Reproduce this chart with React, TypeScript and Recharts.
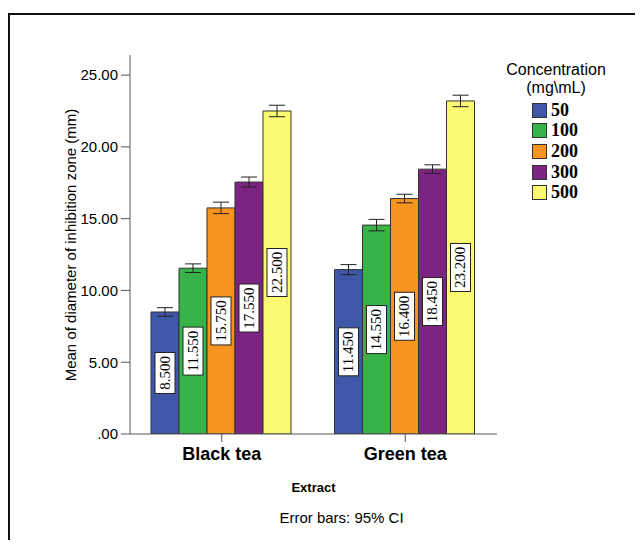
import { BarChart, Bar, XAxis, YAxis, ErrorBar, LabelList, Legend } from "recharts";

const extracts = ["Black tea", "Green tea"];
const concentrations = ["50", "100", "200", "300", "500"];
const colors = ["#3f57a7", "#36b44a", "#f7941f", "#7c2481", "#fbf872"];

// mean per concentration, one value per extract
const mean50 = [8.5, 11.45];
const mean100 = [11.55, 14.55];
const mean200 = [15.75, 16.4];
const mean300 = [17.55, 18.45];
const mean500 = [22.5, 23.2];

// 95% CI half widths
const ci50 = [0.3, 0.35];
const ci100 = [0.3, 0.4];
const ci200 = [0.4, 0.3];
const ci300 = [0.35, 0.3];
const ci500 = [0.4, 0.4];

const yTicks = [0, 5, 10, 15, 20, 25];

const means = [mean50, mean100, mean200, mean300, mean500];
const cis = [ci50, ci100, ci200, ci300, ci500];

const data = extracts.map((extract, i) => {
  const row: Record<string, string | number> = { extract };
  concentrations.forEach((c, j) => {
    row["m" + c] = means[j][i];
    row["e" + c] = cis[j][i];
  });
  return row;
});

const SANS = "'Liberation Sans', Arial, sans-serif";
const SERIF = "'Liberation Serif', 'Times New Roman', serif";

function ValueBox(props: any) {
  const { x, y, width, height, value } = props;
  const cx = x + width / 2;
  const cy = y + height / 2;
  const text = Number(value).toFixed(3);
  const h = text.length * 7 + 6;
  const w = 20;
  return (
    <g>
      <rect x={cx - w / 2} y={cy - h / 2} width={w} height={h} fill="#fff" stroke="#222" strokeWidth={1} />
      <text
        x={cx}
        y={cy}
        transform={`rotate(-90 ${cx} ${cy})`}
        textAnchor="middle"
        dominantBaseline="central"
        fontFamily={SERIF}
        fontSize={15}
        fill="#000"
      >
        {text}
      </text>
    </g>
  );
}

// legend keeps the series order (no sorting)
function ConcLegend() {
  return (
    <div style={{ width: 116, fontFamily: SANS, color: "#000" }}>
      <div style={{ textAlign: "center", fontSize: 16, lineHeight: "18px" }}>Concentration</div>
      <div style={{ textAlign: "center", fontSize: 16, lineHeight: "18px" }}>(mg\mL)</div>
      <div style={{ marginTop: 3 }}>
        {concentrations.map((c, j) => (
          <div key={c} style={{ display: "flex", alignItems: "center", height: 20.6, paddingLeft: 34 }}>
            <div style={{ width: 15, height: 15, background: colors[j], border: "1px solid #333", boxSizing: "border-box" }} />
            <span style={{ fontFamily: SERIF, fontWeight: "bold", fontSize: 18, marginLeft: 4 }}>{c}</span>
          </div>
        ))}
      </div>
    </div>
  );
}

export default function App() {
  return (
    <div style={{ position: "relative", width: 627, height: 532 }}>
      <div
        style={{
          position: "absolute",
          top: 5,
          left: 0,
          right: 0,
          bottom: 0,
          borderTop: "2px solid #111",
          borderLeft: "2px solid #111",
        }}
      />
      <div style={{ position: "absolute", top: 0, left: 0 }}>
        <BarChart
          width={627}
          height={532}
          data={data}
          margin={{ top: 47, right: 138, bottom: 66, left: 52 }}
          barCategoryGap={21}
          barGap={0}
        >
          <XAxis
            dataKey="extract"
            height={40}
            tickSize={8}
            tickMargin={5}
            stroke="#555"
            tick={{ fontSize: 18, fontWeight: "bold", fill: "#000", fontFamily: SANS }}
            label={{
              value: "Extract",
              position: "insideBottom",
              offset: -18,
              fontSize: 13,
              fontWeight: "bold",
              fill: "#000",
              fontFamily: SANS,
            }}
          />
          <XAxis xAxisId="top" dataKey="extract" orientation="top" height={0} tick={false} tickLine={false} stroke="#777" />
          <YAxis
            width={70}
            domain={[0, 26.4]}
            ticks={yTicks}
            allowDataOverflow
            tickSize={9}
            tickMargin={3}
            stroke="#555"
            tickFormatter={(v: number) => (v === 0 ? ".00" : v.toFixed(2))}
            tick={{ fontSize: 15, fill: "#000", fontFamily: SANS }}
            label={{
              content: () => (
                <text
                  x={62}
                  y={237}
                  transform="rotate(-90 62 237)"
                  textAnchor="middle"
                  dominantBaseline="central"
                  fontSize={15}
                  fill="#000"
                  fontFamily={SANS}
                >
                  Mean of diameter of inhibition zone (mm)
                </text>
              ),
            }}
          />
          <YAxis yAxisId="right" orientation="right" width={0} tick={false} tickLine={false} stroke="#777" />
          <Legend
            layout="vertical"
            align="center"
            verticalAlign="middle"
            content={<ConcLegend />}
            wrapperStyle={{ left: 490, top: 53, width: 116 }}
          />
          {concentrations.map((c, j) => (
            <Bar
              key={c}
              dataKey={"m" + c}
              name={c}
              fill={colors[j]}
              stroke="#333"
              strokeWidth={1}
              isAnimationActive={false}
            >
              <ErrorBar dataKey={"e" + c} width={8} stroke="#222" strokeWidth={1} direction="y" />
              <LabelList dataKey={"m" + c} content={<ValueBox />} />
            </Bar>
          ))}
        </BarChart>
        <div
          style={{
            position: "absolute",
            left: 0,
            top: 501,
            width: 627,
            paddingLeft: 40,
            boxSizing: "border-box",
            textAlign: "center",
            fontFamily: SANS,
            fontSize: 15,
            color: "#000",
          }}
        >
          Error bars: 95% CI
        </div>
      </div>
    </div>
  );
}
